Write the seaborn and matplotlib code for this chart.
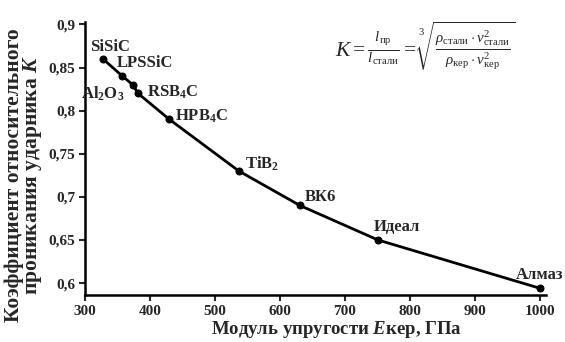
import matplotlib
matplotlib.use('Agg')
import matplotlib.pyplot as plt
import seaborn as sns
import pandas as pd

# data
materials = ['SiSiC', 'LPSSiC', r'Al$\mathbf{_2}$O$\mathbf{_3}$', r'RSB$\mathbf{_4}$C',
             r'HPB$\mathbf{_4}$C', r'TiB$\mathbf{_2}$', 'ВК6', 'Идеал', 'Алмаз']
modulus = [328, 358, 374, 382, 430, 537, 631, 751, 1000]
k_coef = [0.86, 0.84, 0.83, 0.82, 0.79, 0.73, 0.69, 0.65, 0.594]

x_ticks = [300, 400, 500, 600, 700, 800, 900, 1000]
y_ticks = [0.6, 0.65, 0.7, 0.75, 0.8, 0.85, 0.9]
y_ticklabels = ['0,6', '0,65', '0,7', '0,75', '0,8', '0,85', '0,9']

# label offsets in pixels from each point: (dx, dy, ha)
label_pos = [(-13, 12, 'left'), (-6, 13, 'left'), (-8, -9, 'right'),
             (9, 1, 'left'), (6, 3, 'left'), (6, 7, 'left'),
             (5, 8, 'left'), (-4, 13, 'left'), (23, 13, 'right')]

sns.set_style('white')
plt.rcParams['font.family'] = ['Liberation Serif', 'DejaVu Serif']
plt.rcParams['font.weight'] = 'bold'
plt.rcParams['mathtext.fontset'] = 'custom'
plt.rcParams['mathtext.rm'] = 'Liberation Serif:normal'
plt.rcParams['mathtext.it'] = 'Liberation Serif:italic:normal'
plt.rcParams['mathtext.bf'] = 'Liberation Serif:bold'
plt.rcParams['mathtext.bfit'] = 'Liberation Serif:italic:bold'

df = pd.DataFrame({'E': modulus, 'K': k_coef, 'name': materials})

fig = plt.figure(figsize=(5.65, 3.42), dpi=100)
ax = fig.add_axes([0.150, 0.137, 0.817, 0.799])

sns.lineplot(data=df, x='E', y='K', ax=ax, color='black', linewidth=2,
             marker='o', markersize=5, markeredgecolor='black', markerfacecolor='black')

for (_, row), (dx, dy, ha) in zip(df.iterrows(), label_pos):
    ax.annotate(row['name'], (row['E'], row['K']), xytext=(dx, dy),
                textcoords='offset pixels', ha=ha, va='center',
                fontsize=12, fontweight='bold', annotation_clip=False)

ax.set_xlim(300, 1010)
ax.set_ylim(0.586, 0.903)
ax.set_xticks(x_ticks)
ax.set_yticks(y_ticks)
ax.set_yticklabels(y_ticklabels)
ax.tick_params(axis='both', direction='out', length=4, width=1.5, labelsize=11,
               left=True, bottom=True, pad=3)
for lbl in ax.get_xticklabels() + ax.get_yticklabels():
    lbl.set_fontweight('bold')

sns.despine(ax=ax)
for s in ['left', 'bottom']:
    ax.spines[s].set_linewidth(1.8)
    ax.spines[s].set_color('black')

ax.set_xlabel(r'Модуль упругости $\mathbfit{E}$кер, ГПа', fontsize=13.5,
              fontweight='bold', labelpad=1, x=0.545)
ax.set_ylabel('Коэффициент относительного\nпроникания ударника $\\mathbfit{K}$',
              fontsize=15.5, fontweight='bold', linespacing=0.8, labelpad=3, y=0.44)

formula = (r'$K = \frac{l_{\mathrm{пр}}}{l_{\mathrm{стали}}} = '
           r'\sqrt[3]{\frac{\rho_{\mathrm{стали}}\cdot v_{\mathrm{стали}}^{2}}'
           r'{\rho_{\mathrm{кер}}\cdot v_{\mathrm{кер}}^{2}}}$')
fig.text(0.593, 0.865, formula, fontsize=15.5, fontweight='normal', va='center', ha='left')

plt.savefig('out.png', dpi=100)
